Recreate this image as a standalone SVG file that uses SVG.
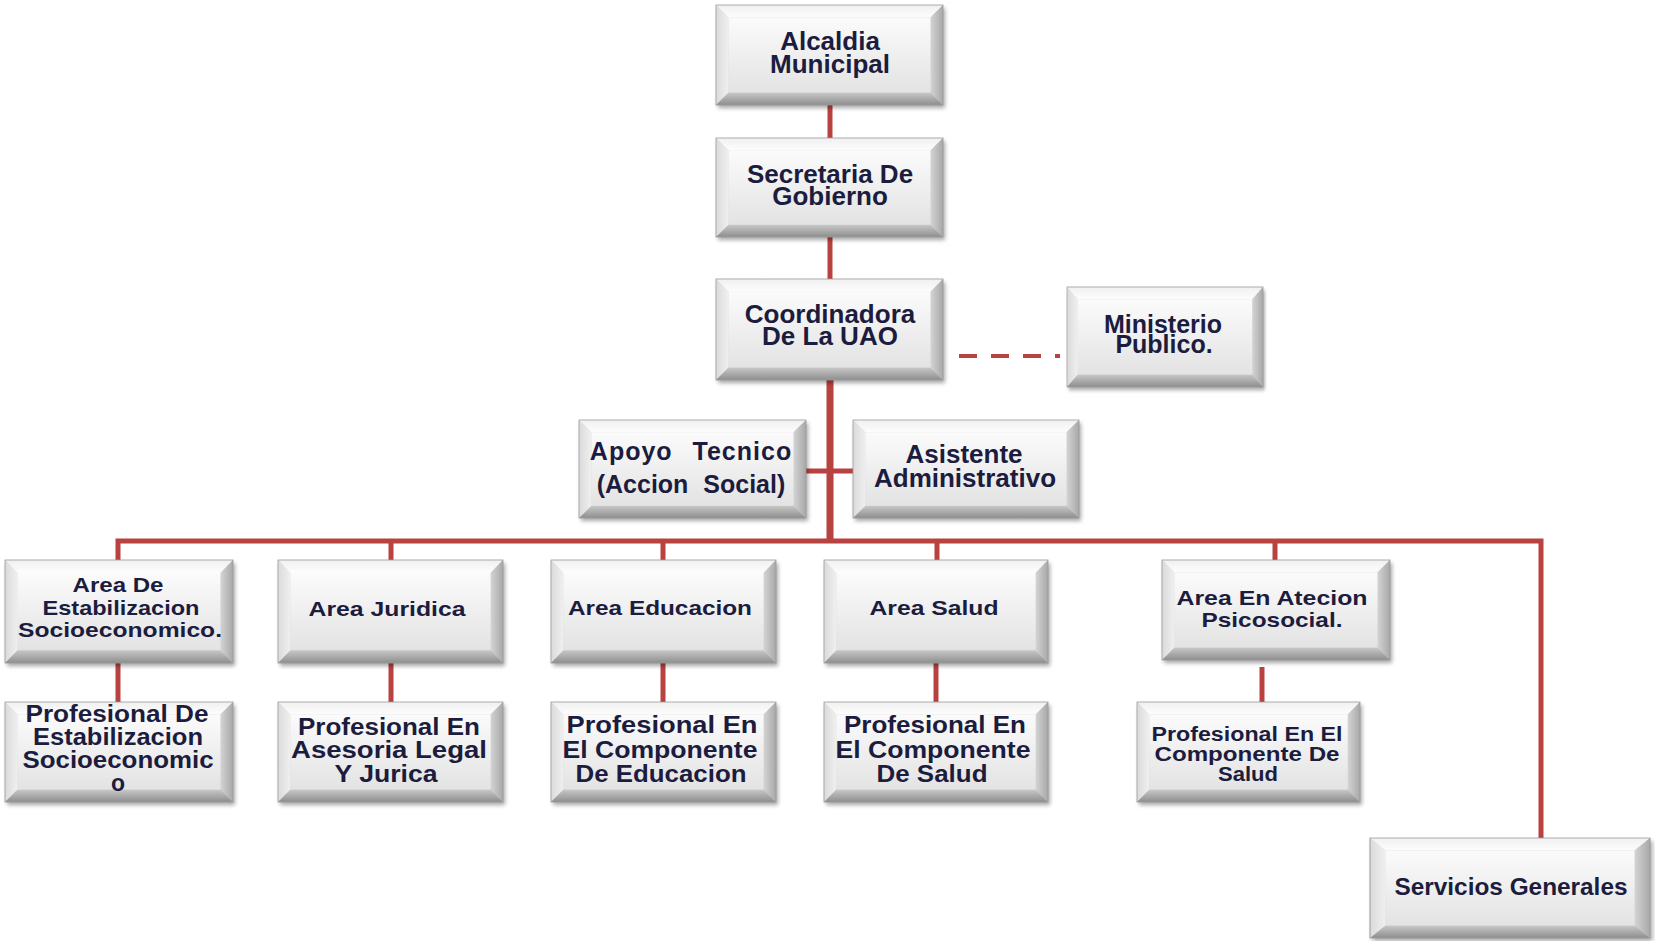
<svg xmlns="http://www.w3.org/2000/svg" xmlns:xlink="http://www.w3.org/1999/xlink" width="1655" height="941" viewBox="0 0 1655 941">
<style>
.t{font-family:"Liberation Sans",Arial,sans-serif;font-weight:bold;fill:#1c1c3e;text-anchor:middle}
.f26{font-size:26px}.f25{font-size:25px}.f23{font-size:23px}.f21{font-size:21px}.f20{font-size:20px}
.ln{stroke:#b8423f;fill:none;stroke-linecap:butt}
</style>
<defs>
<filter id="blur" x="-10%" y="-10%" width="120%" height="130%"><feGaussianBlur stdDeviation="2"/></filter>
<linearGradient id="gFace" x1="0" y1="0" x2="0" y2="1"><stop offset="0" stop-color="#fbfbfb"/><stop offset="1" stop-color="#e3e3e3"/></linearGradient>
<linearGradient id="gTop" x1="0" y1="0" x2="0" y2="1"><stop offset="0" stop-color="#f0f0f0"/><stop offset="1" stop-color="#fdfdfd"/></linearGradient>
<linearGradient id="gLeft" x1="0" y1="0" x2="1" y2="0"><stop offset="0" stop-color="#dadada"/><stop offset="1" stop-color="#f0f0f0"/></linearGradient>
<linearGradient id="gRight" x1="0" y1="0" x2="1" y2="0"><stop offset="0" stop-color="#d4d4d4"/><stop offset="1" stop-color="#a8a8a8"/></linearGradient>
<linearGradient id="gBot" x1="0" y1="0" x2="0" y2="1"><stop offset="0" stop-color="#c8c8c8"/><stop offset="1" stop-color="#8e8e8e"/></linearGradient>
<symbol id="bev" viewBox="0 0 226 100" preserveAspectRatio="none" style="overflow:visible">
<rect x="2" y="3" width="226" height="100" fill="#000" opacity="0.35" filter="url(#blur)"/>
<rect x="0" y="0" width="226" height="100" fill="#d8d8d8"/>
<polygon points="0,0 226,0 213.5,12.5 12.5,12.5" fill="url(#gTop)"/>
<polygon points="0,0 12.5,12.5 12.5,87.5 0,100" fill="url(#gLeft)"/>
<polygon points="226,0 226,100 213.5,87.5 213.5,12.5" fill="url(#gRight)"/>
<polygon points="0,100 226,100 213.5,87.5 12.5,87.5" fill="url(#gBot)"/>
<rect x="12.5" y="12.5" width="201" height="75" fill="url(#gFace)"/>
<rect x="0" y="0" width="226" height="100" fill="none" stroke="#9c9c9c" stroke-width="0.8"/>
</symbol>
</defs>
<rect width="1655" height="941" fill="#ffffff"/>

<g id="connectors">
<line class="ln" x1="830" y1="105" x2="830" y2="138" stroke-width="5"/>
<line class="ln" x1="830" y1="237" x2="830" y2="279" stroke-width="5"/>
<line class="ln" x1="830" y1="380" x2="830" y2="543" stroke-width="7"/>
<line class="ln" x1="806" y1="471" x2="853" y2="471" stroke-width="5"/>
<path class="ln" d="M118,560 V541 H1541 V838" stroke-width="5" stroke-linejoin="miter"/>
<line class="ln" x1="391" y1="541" x2="391" y2="560" stroke-width="5"/>
<line class="ln" x1="663" y1="541" x2="663" y2="560" stroke-width="5"/>
<line class="ln" x1="937" y1="541" x2="937" y2="560" stroke-width="5"/>
<line class="ln" x1="1275" y1="541" x2="1275" y2="560" stroke-width="5"/>
<line class="ln" x1="118" y1="663" x2="118" y2="702" stroke-width="5"/>
<line class="ln" x1="391" y1="663" x2="391" y2="702" stroke-width="5"/>
<line class="ln" x1="663" y1="663" x2="663" y2="702" stroke-width="5"/>
<line class="ln" x1="936" y1="663" x2="936" y2="702" stroke-width="5"/>
<line class="ln" x1="1262" y1="667" x2="1262" y2="702" stroke-width="5"/>
<line class="ln" x1="959" y1="356" x2="1060" y2="356" stroke-width="4" stroke-dasharray="18 14"/>
</g>

<g id="n-alcaldia"><use xlink:href="#bev" x="716" y="5" width="227" height="100"/>
<text class="t f26" x="830" y="50">Alcaldia</text><text class="t f26" x="830" y="73">Municipal</text></g>

<g id="n-secretaria"><use xlink:href="#bev" x="716" y="138" width="227" height="99"/>
<text class="t f26" x="830" y="183">Secretaria De</text><text class="t f26" x="830" y="205">Gobierno</text></g>

<g id="n-coordinadora"><use xlink:href="#bev" x="716" y="279" width="227" height="101"/>
<text class="t f26" x="830" y="323">Coordinadora</text><text class="t f26" x="830" y="345">De La UAO</text></g>

<g id="n-ministerio"><use xlink:href="#bev" x="1067" y="287" width="196" height="100"/>
<text class="t f25" x="1163" y="333">Ministerio</text><text class="t f25" x="1164" y="353">Publico.</text></g>

<g id="n-apoyo"><use xlink:href="#bev" x="579" y="420" width="227" height="98"/>
<text class="t f25" x="691" y="460" letter-spacing="1" word-spacing="12">Apoyo Tecnico</text>
<text class="t f25" x="691" y="493" word-spacing="8">(Accion Social)</text></g>

<g id="n-asistente"><use xlink:href="#bev" x="853" y="420" width="226" height="98"/>
<text class="t f26" x="964" y="463">Asistente</text><text class="t f26" x="965" y="487">Administrativo</text></g>

<g id="n-area-estab"><use xlink:href="#bev" x="5" y="560" width="228" height="103"/>
<text class="t f21" x="118" y="592" textLength="91" lengthAdjust="spacingAndGlyphs">Area De</text>
<text class="t f21" x="121" y="615" textLength="157" lengthAdjust="spacingAndGlyphs">Estabilizacion</text>
<text class="t f21" x="120" y="637" textLength="204" lengthAdjust="spacingAndGlyphs">Socioeconomico.</text></g>

<g id="n-area-juridica"><use xlink:href="#bev" x="278" y="560" width="225" height="103"/>
<text class="t f21" x="387" y="616" textLength="157" lengthAdjust="spacingAndGlyphs">Area Juridica</text></g>

<g id="n-area-educacion"><use xlink:href="#bev" x="551" y="560" width="225" height="103"/>
<text class="t f21" x="660" y="615" textLength="184" lengthAdjust="spacingAndGlyphs">Area Educacion</text></g>

<g id="n-area-salud"><use xlink:href="#bev" x="824" y="560" width="224" height="103"/>
<text class="t f21" x="934" y="615" textLength="129" lengthAdjust="spacingAndGlyphs">Area Salud</text></g>

<g id="n-area-psico"><use xlink:href="#bev" x="1162" y="560" width="228" height="100"/>
<text class="t f21" x="1272" y="605" textLength="191" lengthAdjust="spacingAndGlyphs">Area En Atecion</text>
<text class="t f21" x="1272" y="627" textLength="141" lengthAdjust="spacingAndGlyphs">Psicosocial.</text></g>

<g id="n-prof-estab"><use xlink:href="#bev" x="5" y="702" width="228" height="100"/>
<text class="t f23" x="117" y="722" textLength="183" lengthAdjust="spacingAndGlyphs">Profesional De</text>
<text class="t f23" x="118" y="745" textLength="170" lengthAdjust="spacingAndGlyphs">Estabilizacion</text>
<text class="t f23" x="118" y="768" textLength="191" lengthAdjust="spacingAndGlyphs">Socioeconomic</text>
<text class="t f23" x="118" y="791">o</text></g>

<g id="n-prof-juridica"><use xlink:href="#bev" x="278" y="702" width="225" height="100"/>
<text class="t f23" x="389" y="735" textLength="182" lengthAdjust="spacingAndGlyphs">Profesional En</text>
<text class="t f23" x="389" y="758" textLength="196" lengthAdjust="spacingAndGlyphs">Asesoria  Legal</text>
<text class="t f23" x="386" y="782" textLength="103" lengthAdjust="spacingAndGlyphs">Y Jurica</text></g>

<g id="n-prof-educacion"><use xlink:href="#bev" x="551" y="702" width="225" height="100"/>
<text class="t f23" x="662" y="733" textLength="191" lengthAdjust="spacingAndGlyphs">Profesional  En</text>
<text class="t f23" x="660" y="758" textLength="195" lengthAdjust="spacingAndGlyphs">El Componente</text>
<text class="t f23" x="661" y="782" textLength="171" lengthAdjust="spacingAndGlyphs">De Educacion</text></g>

<g id="n-prof-salud"><use xlink:href="#bev" x="824" y="702" width="224" height="100"/>
<text class="t f23" x="935" y="733" textLength="182" lengthAdjust="spacingAndGlyphs">Profesional En</text>
<text class="t f23" x="933" y="758" textLength="195" lengthAdjust="spacingAndGlyphs">El Componente</text>
<text class="t f23" x="932" y="782" textLength="111" lengthAdjust="spacingAndGlyphs">De  Salud</text></g>

<g id="n-prof-psico"><use xlink:href="#bev" x="1137" y="702" width="223" height="100"/>
<text class="t f20" x="1247" y="741" textLength="191" lengthAdjust="spacingAndGlyphs">Profesional En El</text>
<text class="t f20" x="1247" y="761" textLength="185" lengthAdjust="spacingAndGlyphs">Componente De</text>
<text class="t f20" x="1248" y="781" textLength="60" lengthAdjust="spacingAndGlyphs">Salud</text></g>

<g id="n-servicios"><use xlink:href="#bev" x="1370" y="838" width="280" height="100"/>
<text class="t f23" x="1511" y="895" textLength="233" lengthAdjust="spacingAndGlyphs">Servicios Generales</text></g>
</svg>
